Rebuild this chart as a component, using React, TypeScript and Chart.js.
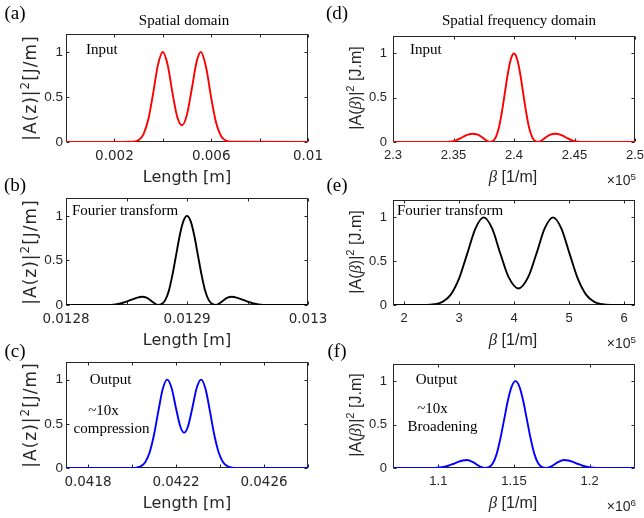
import React, { useEffect, useRef } from 'react';
import { Chart, registerables } from 'chart.js';

Chart.register(...registerables);

// ---------- Data ----------
// (a) Spatial domain, input  |A(z)|^2 vs Length [m]
const aLength = [0, 0.0028, 0.0030, 0.0032, 0.0034, 0.0036, 0.0038, 0.0040, 0.0042, 0.0044, 0.0046, 0.0048, 0.0050, 0.0052, 0.0054, 0.00557, 0.0058, 0.0060, 0.0062, 0.0064, 0.0066, 0.0068, 0.0100];
const aIntensity = [0, 0.004, 0.021, 0.085, 0.249, 0.539, 0.857, 1.0, 0.858, 0.544, 0.276, 0.186, 0.307, 0.594, 0.895, 1.0, 0.815, 0.490, 0.216, 0.070, 0.017, 0.003, 0];

// (b) Fourier transform in the spatial domain
const bLength = [0.012800, 0.012830, 0.012835, 0.012839, 0.012843, 0.012847, 0.012851, 0.012855, 0.012859, 0.012863, 0.012866, 0.012869, 0.012872, 0.012874, 0.012876, 0.012879, 0.012882, 0.012885, 0.012888, 0.012891, 0.012894, 0.012897, 0.012900, 0.012903, 0.012906, 0.012909, 0.012912, 0.012915, 0.012918, 0.012921, 0.012924, 0.012926, 0.012928, 0.012931, 0.012934, 0.012937, 0.012941, 0.012945, 0.012949, 0.012953, 0.012957, 0.012961, 0.012965, 0.012970, 0.013000];
const bIntensity = [0, 0, 0.001, 0.004, 0.012, 0.025, 0.043, 0.064, 0.083, 0.092, 0.085, 0.062, 0.030, 0.010, 0, 0.010, 0.055, 0.160, 0.340, 0.560, 0.780, 0.940, 1.000, 0.940, 0.780, 0.560, 0.340, 0.160, 0.055, 0.010, 0, 0.010, 0.030, 0.062, 0.085, 0.092, 0.083, 0.064, 0.043, 0.025, 0.012, 0.004, 0.001, 0, 0];

// (c) Output in the spatial domain
const cLength = [0.0417, 0.04200, 0.04202, 0.04204, 0.04206, 0.04208, 0.04210, 0.04212, 0.04214, 0.04216, 0.04218, 0.04220, 0.04222, 0.042237, 0.042254, 0.042274, 0.042294, 0.042314, 0.042334, 0.042354, 0.042374, 0.042394, 0.042414, 0.042434, 0.042454, 0.042474, 0.0428];
const cIntensity = [0, 0.001, 0.005, 0.020, 0.066, 0.176, 0.376, 0.647, 0.897, 1.0, 0.905, 0.676, 0.467, 0.400, 0.467, 0.676, 0.905, 1.0, 0.897, 0.647, 0.376, 0.176, 0.066, 0.020, 0.005, 0.001, 0];

// (d) Spatial frequency domain, input  (beta in units of 1e5 1/m)
const dBetaE5 = [2.3, 2.343, 2.347, 2.350, 2.353, 2.356, 2.359, 2.362, 2.3655, 2.370, 2.373, 2.3755, 2.378, 2.380, 2.3825, 2.385, 2.3875, 2.390, 2.3925, 2.395, 2.3975, 2.400, 2.4025, 2.405, 2.4075, 2.410, 2.4125, 2.415, 2.4175, 2.420, 2.422, 2.4245, 2.427, 2.430, 2.4345, 2.438, 2.441, 2.444, 2.447, 2.450, 2.453, 2.457, 2.5];
const dSpectrum = [0, 0, 0.003, 0.010, 0.024, 0.044, 0.066, 0.084, 0.093, 0.083, 0.060, 0.033, 0.009, 0, 0.010, 0.055, 0.160, 0.340, 0.560, 0.780, 0.940, 1.000, 0.940, 0.780, 0.560, 0.340, 0.160, 0.055, 0.010, 0, 0.009, 0.033, 0.060, 0.083, 0.093, 0.084, 0.066, 0.044, 0.024, 0.010, 0.003, 0, 0];

// (e) Fourier transform in the spatial frequency domain (beta in 1e5 1/m)
const eBetaE5 = [1.8, 2.4, 2.55, 2.7, 2.85, 3.0, 3.15, 3.3, 3.45, 3.6, 3.75, 3.9, 4.08, 4.26, 4.41, 4.56, 4.71, 4.86, 5.01, 5.16, 5.31, 5.46, 5.61, 5.76, 6.2];
const eSpectrum = [0, 0.001, 0.008, 0.035, 0.118, 0.300, 0.586, 0.875, 1.0, 0.876, 0.590, 0.320, 0.189, 0.320, 0.590, 0.876, 1.0, 0.875, 0.586, 0.300, 0.118, 0.035, 0.008, 0.001, 0];

// (f) Output in the spatial frequency domain (beta in 1e6 1/m)
const fBetaE6 = [1.07, 1.093, 1.097, 1.101, 1.104, 1.107, 1.110, 1.113, 1.116, 1.119, 1.121, 1.1235, 1.126, 1.1285, 1.1306, 1.1335, 1.136, 1.1385, 1.141, 1.1435, 1.146, 1.1485, 1.151, 1.1535, 1.156, 1.1585, 1.161, 1.1635, 1.166, 1.1685, 1.1714, 1.1735, 1.176, 1.1785, 1.181, 1.183, 1.186, 1.189, 1.192, 1.195, 1.198, 1.201, 1.205, 1.209, 1.23];
const fSpectrum = [0, 0, 0.001, 0.005, 0.014, 0.029, 0.049, 0.070, 0.087, 0.092, 0.083, 0.062, 0.033, 0.009, 0, 0.010, 0.055, 0.160, 0.340, 0.560, 0.780, 0.940, 1.000, 0.940, 0.780, 0.560, 0.340, 0.160, 0.055, 0.010, 0, 0.009, 0.033, 0.062, 0.083, 0.092, 0.087, 0.070, 0.049, 0.029, 0.014, 0.005, 0.001, 0, 0];

// ---------- Ticks ----------
const aTicks = [0, 0.002, 0.004, 0.006, 0.008, 0.01];
const aTickLabels = ['', '0.002', '', '0.006', '', '0.01'];
const bTicks = [0.0128, 0.01285, 0.0129, 0.01295, 0.013];
const bTickLabels = ['0.0128', '', '0.0129', '', '0.013'];
const cTicks = [0.0418, 0.042, 0.0422, 0.0424, 0.0426, 0.0428];
const cTickLabels = ['0.0418', '', '0.0422', '', '0.0426', ''];
const dTicks = [2.3, 2.35, 2.4, 2.45, 2.5];
const dTickLabels = ['2.3', '2.35', '2.4', '2.45', '2.5'];
const eTicks = [2, 3, 4, 5, 6];
const eTickLabels = ['2', '3', '4', '5', '6'];
const fTicks = [1.1, 1.15, 1.2];
const fTickLabels = ['1.1', '1.15', '1.2'];
const yTicks = [0, 0.5, 1];
const yTickLabels = ['0', '0.5', '1'];

// ---------- Styling / layout ----------
const AXIS = '#262626';
const SERIF = '"Liberation Serif", "Times New Roman", serif';
const DEJAVU = '"DejaVu Sans", sans-serif';
const ARIAL = '"Liberation Sans", Arial, sans-serif';

const PW = 242;
const COL_L = [66, 393];
const ROWS = [
  { top: 34, h: 108 },
  { top: 198, h: 107 },
  { top: 362, h: 106 },
];
const YW = 60;
const PAD_T = 12;
const PAD_R = 30;
const XH = 30;

type Spec = {
  xs: number[];
  ys: number[];
  color: string;
  xMin: number;
  xMax: number;
  xTicks: number[];
  xLabels: string[];
  xFont: string;
  xSize: number;
  yFont: string;
  ySize: number;
  yPad: number;
  col: number;
  row: number;
};

const framePlugin = {
  id: 'matlabFrame',
  beforeDatasetsDraw(chart: any) {
    const { ctx, chartArea: a, scales } = chart;
    const l = Math.round(a.left) + 0.5;
    const r = Math.round(a.right) - 0.5;
    const t = Math.round(a.top) + 0.5;
    const b = Math.round(a.bottom) - 0.5;
    ctx.save();
    ctx.strokeStyle = AXIS;
    ctx.lineWidth = 1;
    ctx.strokeRect(l, t, r - l, b - t);
    const tl = 3;
    ctx.beginPath();
    for (const tk of scales.x.ticks) {
      const px = Math.round(scales.x.getPixelForValue(tk.value)) + 0.5;
      ctx.moveTo(px, b);
      ctx.lineTo(px, b - tl);
      ctx.moveTo(px, t);
      ctx.lineTo(px, t + tl);
    }
    for (const tk of scales.y.ticks) {
      const py = Math.round(scales.y.getPixelForValue(tk.value)) + 0.5;
      ctx.moveTo(l, py);
      ctx.lineTo(l + tl, py);
      ctx.moveTo(r, py);
      ctx.lineTo(r - tl, py);
    }
    ctx.stroke();
    ctx.restore();
  },
};

function Panel({ spec }: { spec: Spec }) {
  const ref = useRef<HTMLCanvasElement | null>(null);
  const row = ROWS[spec.row];
  const cw = YW + PW + PAD_R;
  const ch = PAD_T + row.h + XH;
  useEffect(() => {
    const chart = new Chart(ref.current as HTMLCanvasElement, {
      type: 'line',
      data: {
        datasets: [
          {
            data: spec.xs.map((x, i) => ({ x, y: spec.ys[i] })),
            borderColor: spec.color,
            borderWidth: 1.9,
            pointRadius: 0,
            fill: false,
            cubicInterpolationMode: 'monotone',
          },
        ],
      },
      options: {
        responsive: false,
        animation: false,
        devicePixelRatio: 1,
        events: [],
        layout: { padding: { left: 0, right: PAD_R, top: PAD_T, bottom: 0 } },
        plugins: {
          legend: { display: false },
          tooltip: { enabled: false },
          title: { display: false },
        },
        scales: {
          x: {
            type: 'linear',
            min: spec.xMin,
            max: spec.xMax,
            afterBuildTicks: (s: any) => {
              s.ticks = spec.xTicks.map((v) => ({ value: v }));
            },
            afterFit: (s: any) => {
              s.height = XH;
            },
            grid: { display: false, drawTicks: false },
            border: { display: false },
            ticks: {
              autoSkip: false,
              maxRotation: 0,
              minRotation: 0,
              padding: 6,
              color: AXIS,
              font: { family: spec.xFont, size: spec.xSize },
              callback: (_v: any, i: number) => spec.xLabels[i],
            },
          },
          y: {
            type: 'linear',
            min: 0,
            max: 1.2,
            afterBuildTicks: (s: any) => {
              s.ticks = yTicks.map((v) => ({ value: v }));
            },
            afterFit: (s: any) => {
              s.width = YW;
            },
            grid: { display: false, drawTicks: false },
            border: { display: false },
            ticks: {
              padding: spec.yPad,
              color: AXIS,
              font: { family: spec.yFont, size: spec.ySize },
              callback: (_v: any, i: number) => yTickLabels[i],
            },
          },
        },
      } as any,
      plugins: [framePlugin],
    });
    return () => chart.destroy();
  }, []);
  return (
    <canvas
      ref={ref}
      width={cw}
      height={ch}
      style={{
        position: 'absolute',
        left: COL_L[spec.col] - YW,
        top: row.top - PAD_T,
        width: cw,
        height: ch,
      }}
    />
  );
}

function Txt({
  x,
  y,
  children,
  font,
  size,
  align = 'center',
  rotate = false,
  color = AXIS,
  spacing = 0,
}: {
  x: number;
  y: number;
  children: React.ReactNode;
  font: string;
  size: number;
  align?: 'center' | 'left' | 'right';
  rotate?: boolean;
  color?: string;
  spacing?: number;
}) {
  const tx = align === 'center' ? '-50%' : align === 'left' ? '0' : '-100%';
  return (
    <div
      style={{
        position: 'absolute',
        left: x,
        top: y,
        transform: `translate(${tx}, -50%)${rotate ? ' rotate(-90deg)' : ''}`,
        fontFamily: font,
        fontSize: size,
        lineHeight: 1,
        whiteSpace: 'nowrap',
        color,
        letterSpacing: spacing,
      }}
    >
      {children}
    </div>
  );
}

const supStyle: React.CSSProperties = { fontSize: '0.7em', verticalAlign: '0.55em', lineHeight: 0 };
const betaStyle: React.CSSProperties = { fontFamily: SERIF, fontStyle: 'italic', fontSize: '1.05em' };

const specs: Spec[] = [
  { xs: aLength, ys: aIntensity, color: '#ff0000', xMin: 0, xMax: 0.01, xTicks: aTicks, xLabels: aTickLabels, xFont: DEJAVU, xSize: 13.5, yFont: ARIAL, ySize: 13.5, yPad: 3, col: 0, row: 0 },
  { xs: bLength, ys: bIntensity, color: '#000000', xMin: 0.0128, xMax: 0.013, xTicks: bTicks, xLabels: bTickLabels, xFont: DEJAVU, xSize: 13.5, yFont: ARIAL, ySize: 13.5, yPad: 3, col: 0, row: 1 },
  { xs: cLength, ys: cIntensity, color: '#0000ff', xMin: 0.0417, xMax: 0.0428, xTicks: cTicks, xLabels: cTickLabels, xFont: DEJAVU, xSize: 13.5, yFont: ARIAL, ySize: 13.5, yPad: 3, col: 0, row: 2 },
  { xs: dBetaE5, ys: dSpectrum, color: '#ff0000', xMin: 2.3, xMax: 2.5, xTicks: dTicks, xLabels: dTickLabels, xFont: ARIAL, xSize: 13, yFont: ARIAL, ySize: 13, yPad: 6, col: 1, row: 0 },
  { xs: eBetaE5, ys: eSpectrum, color: '#000000', xMin: 1.8, xMax: 6.2, xTicks: eTicks, xLabels: eTickLabels, xFont: ARIAL, xSize: 13, yFont: ARIAL, ySize: 13, yPad: 6, col: 1, row: 1 },
  { xs: fBetaE6, ys: fSpectrum, color: '#0000ff', xMin: 1.07, xMax: 1.23, xTicks: fTicks, xLabels: fTickLabels, xFont: ARIAL, xSize: 13, yFont: ARIAL, ySize: 13, yPad: 6, col: 1, row: 2 },
];

const exponents = ['5', '5', '6'];
const panelLetters = [
  ['(a)', '(b)', '(c)'],
  ['(d)', '(e)', '(f)'],
];
const letterY = [12, 184, 350];

export default function App() {
  return (
    <div style={{ position: 'absolute', left: 0, top: 0, width: 644, height: 518, background: '#ffffff', overflow: 'hidden' }}>
      {specs.map((s, i) => (
        <Panel key={i} spec={s} />
      ))}

      {/* Panel letters */}
      {panelLetters.map((col, ci) =>
        col.map((t, ri) => (
          <Txt key={t} x={ci === 0 ? 15 : 337} y={letterY[ri]} font={SERIF} size={19} color="#000">
            {t}
          </Txt>
        ))
      )}

      {/* Column titles */}
      <Txt x={184} y={20} font={SERIF} size={15} color="#000">Spatial domain</Txt>
      <Txt x={519} y={20} font={SERIF} size={15} color="#000">Spatial frequency domain</Txt>

      {/* Axis titles */}
      {ROWS.map((r, ri) => (
        <React.Fragment key={ri}>
          <Txt x={187} y={r.top + r.h + 35} font={DEJAVU} size={16}>Length [m]</Txt>
          <Txt x={513} y={r.top + r.h + 35} font={ARIAL} size={16}>
            <span style={betaStyle}>β</span> [1/m]
          </Txt>
          <Txt x={636} y={r.top + r.h + 38} font={ARIAL} size={14} align="right">
            ×10<span style={supStyle}>{exponents[ri]}</span>
          </Txt>
          <Txt x={30} y={r.top + r.h / 2} font={DEJAVU} size={17} rotate spacing={1}>
            |A(z)|<span style={supStyle}>2</span>[J/m]
          </Txt>
          <Txt x={356} y={r.top + r.h / 2} font={ARIAL} size={16} rotate>
            |A(<span style={betaStyle}>β</span>)|<span style={supStyle}>2</span> [J.m]
          </Txt>
        </React.Fragment>
      ))}

      {/* Annotations */}
      <Txt x={86} y={49} font={SERIF} size={15} align="left" color="#000">Input</Txt>
      <Txt x={410} y={49} font={SERIF} size={15} align="left" color="#000">Input</Txt>
      <Txt x={72} y={210} font={SERIF} size={15} align="left" color="#000">Fourier transform</Txt>
      <Txt x={397} y={210} font={SERIF} size={15} align="left" color="#000">Fourier transform</Txt>
      <Txt x={110.5} y={379} font={SERIF} size={15} color="#000">Output</Txt>
      <Txt x={103.5} y={410} font={SERIF} size={15} color="#000">~10x</Txt>
      <Txt x={111.5} y={428} font={SERIF} size={15} color="#000">compression</Txt>
      <Txt x={436.5} y={379} font={SERIF} size={15} color="#000">Output</Txt>
      <Txt x={432.5} y={408} font={SERIF} size={15} color="#000">~10x</Txt>
      <Txt x={442.5} y={426} font={SERIF} size={15} color="#000">Broadening</Txt>
    </div>
  );
}
